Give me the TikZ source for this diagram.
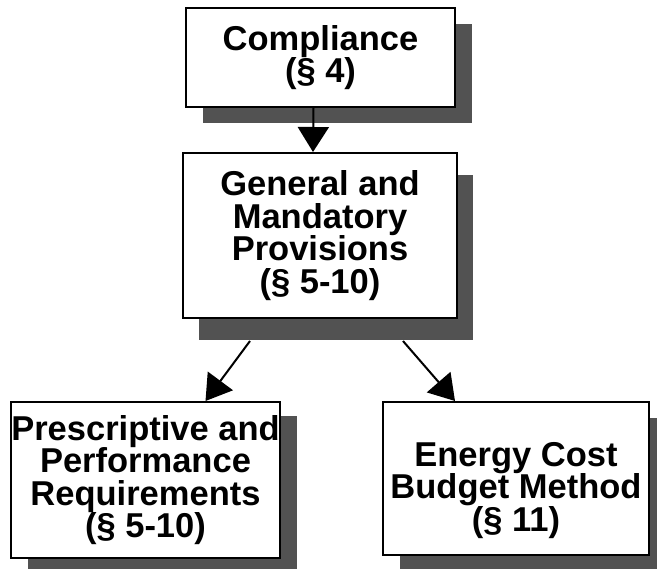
\documentclass[tikz,border=0pt]{standalone}
\usepackage{fontspec}
\setmainfont{Liberation Sans}
\usetikzlibrary{arrows.meta,shadows}
\tikzset{
  box/.style={draw, line width=2pt, fill=white, align=center, inner sep=0pt,
    font=\bfseries\fontsize{34.5}{32.5}\selectfont},
  shadowed/.style 2 args={drop shadow={shadow xshift=#1, shadow yshift=#2,
    fill=black!68, opacity=1}},
  arr/.style={line width=2pt, -{Triangle[length=25pt,width=31pt]}}
}
\begin{document}
\begin{tikzpicture}[x=1pt,y=-1pt]
  \useasboundingbox (0,0) rectangle (657,569);
  % boxes
  \node[box, shadowed={17pt}{-16pt}, minimum width=269pt, minimum height=99pt]
    (comp) at (320.5,57.5) {Compliance\\(§ 4)};
  \node[box, shadowed={16pt}{-22pt}, minimum width=274pt, minimum height=165pt]
    (gen) at (320,235.5) {General and\\Mandatory\\Provisions\\(§ 5-10)};
  \node[box, shadowed={17pt}{-14pt}, minimum width=265pt, minimum height=156pt]
    (pres) at (145.5,480) {Prescriptive and\\Performance\\Requirements\\(§ 5-10)};
  \node[box, shadowed={17pt}{-16pt}, minimum width=266pt, minimum height=153pt]
    (ener) at (516,478.5) {\rule{0pt}{48pt}Energy Cost\\Budget Method\\(§ 11)};
  % connectors
  \draw[arr] ([xshift=-7pt]comp.south) -- ([xshift=-7pt]gen.north);
  \draw[arr] ([shift={(-70pt,-22pt)}]gen.south) -- ([xshift=60pt]pres.north);
  \draw[arr] ([shift={(83pt,-22pt)}]gen.south) -- ([xshift=-61pt]ener.north);
\end{tikzpicture}
\end{document}
